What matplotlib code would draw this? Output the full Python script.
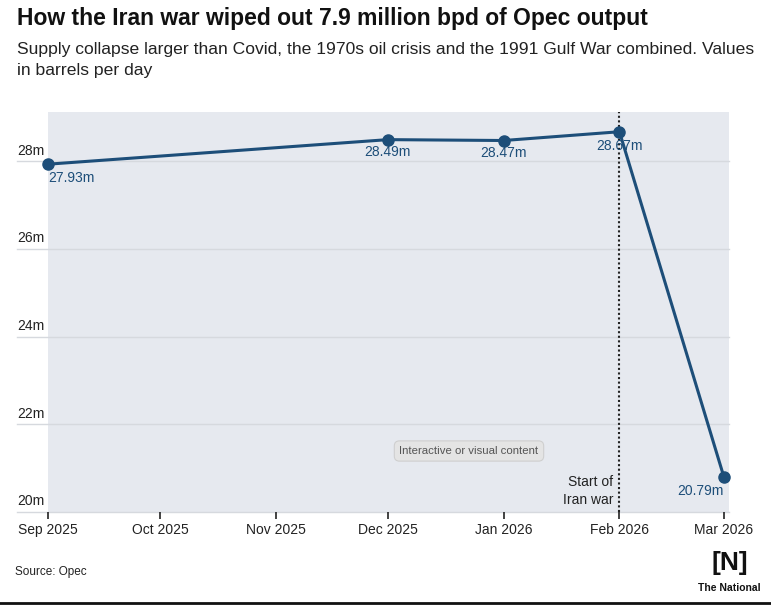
import matplotlib.pyplot as plt
from matplotlib.lines import Line2D
from datetime import datetime

plt.rcParams['font.family'] = ['Liberation Sans', 'DejaVu Sans']

months = ["2025-09-01", "2025-10-01", "2025-11-01", "2025-12-01", "2026-01-01", "2026-02-01", "2026-03-01"]
month_labels = ["Sep 2025", "Oct 2025", "Nov 2025", "Dec 2025", "Jan 2026", "Feb 2026", "Mar 2026"]
point_dates = ["2025-09-01", "2025-12-01", "2026-01-01", "2026-02-01", "2026-03-01"]
output = [27.93, 28.49, 28.47, 28.67, 20.79]
point_labels = ["27.93m", "28.49m", "28.47m", "28.67m", "20.79m"]
y_ticks = [20, 22, 24, 26, 28]
y_tick_labels = ["20m", "22m", "24m", "26m", "28m"]
war_start = "2026-02-01"

line_col = "#1d4e79"
bg = "#e6e9ef"

month_x = [datetime.strptime(m, "%Y-%m-%d") for m in months]
px = [datetime.strptime(d, "%Y-%m-%d") for d in point_dates]
war_x = datetime.strptime(war_start, "%Y-%m-%d")

fig = plt.figure(figsize=(7.71, 6.05), dpi=100)
ax = fig.add_axes([48/771, 93/605, 681/771, 400/605])
ax.set_facecolor(bg)

ax.set_xlim(month_x[0], datetime(2026, 3, 2, 8))
ax.set_ylim(20, 29.12)

# gridlines and y labels sitting above them
for v, lab in zip(y_ticks, y_tick_labels):
    ax.axhline(v, xmin=-31/681, xmax=1, color="#d6d9de", lw=1, clip_on=False, zorder=1)
    ax.text(-31/681, v + 0.08, lab, transform=ax.get_yaxis_transform(),
            ha="left", va="bottom", fontsize=10, color="#222222")

ax.axvline(war_x, color="#222222", lw=1.5, ls=(0, (1, 1.2)), zorder=2)
ax.text(war_x - (month_x[6] - month_x[5]) * 0.06, 20.12, "Start of\nIran war",
        ha="right", va="bottom", fontsize=10, color="#222222", linespacing=1.3)

ax.plot(px, output, color=line_col, lw=2.2, marker="o", ms=8, zorder=3, clip_on=False)

offsets = [(0, -5, "left"), (0, -4, "center"), (0, -4, "center"), (0, -5, "center"), (0, -5, "right")]
for x, y, lab, (dx, dy, ha) in zip(px, output, point_labels, offsets):
    ax.annotate(lab, (x, y), xytext=(dx, dy), textcoords="offset points",
                ha=ha, va="top", fontsize=10, color=line_col, zorder=4)

ax.set_xticks(month_x)
ax.set_xticklabels(month_labels, fontsize=10, color="#222222")
ax.tick_params(axis="x", length=5, width=1.2, color="#222222", pad=3)
ax.set_yticks([])
for s in ax.spines.values():
    s.set_visible(False)

fig.text(17/771, 1 - 7/605, "How the Iran war wiped out 7.9 million bpd of Opec output",
         ha="left", va="top", fontsize=16.5, fontweight="bold", color="#111111")
fig.text(17/771, 1 - 42/605, "Supply collapse larger than Covid, the 1970s oil crisis and the 1991 Gulf War combined. Values\nin barrels per day",
         ha="left", va="top", fontsize=12.6, color="#222222", linespacing=1.5)

fig.text(469/771, 1 - 451/605, "Interactive or visual content", ha="center", va="center",
         fontsize=8.2, color="#555555",
         bbox=dict(boxstyle="round,pad=0.45", fc="#e4e4e4", ec="#cfcfcf", lw=0.8))

fig.text(15/771, 1 - 572/605, "Source: Opec", ha="left", va="center", fontsize=8.5, color="#222222")

fig.text(730/771, 1 - 563/605, "[N]", ha="center", va="center", fontsize=19,
         fontweight="bold", color="#111111")
fig.text(729/771, 1 - 588/605, "The National", ha="center", va="center", fontsize=7.5,
         fontweight="bold", color="#111111")

fig.add_artist(Line2D([0, 1], [2/605, 2/605], color="#111111", lw=2))

fig.savefig("out.png", dpi=100, facecolor="white")
